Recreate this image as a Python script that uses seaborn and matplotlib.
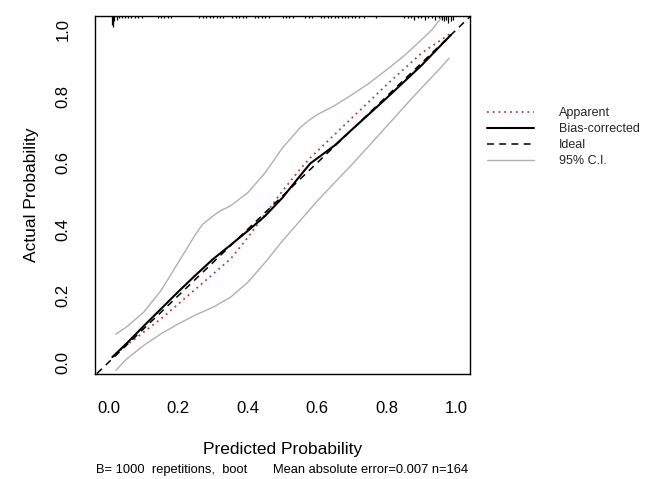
import numpy as np
import pandas as pd
import matplotlib
matplotlib.use("Agg")
import matplotlib.pyplot as plt
import seaborn as sns

# ---------------- data ----------------
apparent_x = [0.02, 0.05, 0.10, 0.15, 0.20, 0.25, 0.30, 0.35, 0.40, 0.45, 0.50, 0.55, 0.58, 0.65, 0.70, 0.80, 0.90, 0.985]
apparent_y = [0.025, 0.05, 0.09, 0.13, 0.175, 0.22, 0.265, 0.31, 0.375, 0.445, 0.515, 0.58, 0.615, 0.685, 0.735, 0.835, 0.93, 0.99]

bias_x = [0.01, 0.05, 0.10, 0.15, 0.20, 0.25, 0.30, 0.35, 0.40, 0.45, 0.50, 0.55, 0.58, 0.65, 0.70, 0.80, 0.90, 0.985]
bias_y = [0.015, 0.055, 0.108, 0.16, 0.212, 0.262, 0.31, 0.352, 0.395, 0.44, 0.495, 0.56, 0.598, 0.652, 0.70, 0.795, 0.893, 0.985]

ci_upper_x = [0.02, 0.05, 0.10, 0.15, 0.20, 0.25, 0.27, 0.30, 0.32, 0.35, 0.40, 0.45, 0.50, 0.55, 0.575,
              0.60, 0.65, 0.70, 0.75, 0.80, 0.85, 0.90, 0.93, 0.96]
ci_upper_y = [0.084, 0.105, 0.15, 0.215, 0.30, 0.385, 0.415, 0.44, 0.455, 0.47, 0.51, 0.57, 0.645, 0.705, 0.727,
              0.745, 0.772, 0.805, 0.84, 0.88, 0.922, 0.97, 1.0, 1.04]

ci_lower_x = [0.02, 0.05, 0.10, 0.15, 0.20, 0.25, 0.30, 0.35, 0.40, 0.45, 0.50, 0.55, 0.60, 0.65,
              0.70, 0.75, 0.80, 0.85, 0.90, 0.95, 0.98]
ci_lower_y = [-0.025, 0.008, 0.05, 0.085, 0.115, 0.142, 0.165, 0.195, 0.24, 0.30, 0.365, 0.425, 0.485, 0.54,
              0.595, 0.652, 0.71, 0.768, 0.825, 0.88, 0.915]

ideal_x = [-0.06, 1.06]
ideal_y = [-0.06, 1.06]

# spike histogram of predicted probabilities (top rug)
rug_x = [0.008, 0.012, 0.016, 0.022, 0.03, 0.038, 0.046, 0.055, 0.065, 0.075, 0.085, 0.095,
         0.14, 0.15, 0.16, 0.17, 0.18,
         0.26, 0.27, 0.28, 0.29, 0.30, 0.31, 0.32, 0.33,
         0.355, 0.365, 0.375, 0.385, 0.395,
         0.42, 0.43, 0.44, 0.45, 0.46,
         0.50, 0.51, 0.52, 0.53,
         0.565, 0.575, 0.585,
         0.61, 0.62, 0.63,
         0.64, 0.65, 0.66, 0.67, 0.68, 0.69, 0.70, 0.71, 0.72, 0.735,
         0.77,
         0.85, 0.86, 0.87, 0.88, 0.89, 0.90, 0.91, 0.92, 0.93, 0.94, 0.95, 0.96,
         0.965, 0.972, 0.978, 0.985, 0.99]
rug_n = [5, 6, 3, 2, 1, 1, 1, 1, 1, 1, 1, 1,
         1, 1, 1, 1, 1,
         1, 1, 1, 1, 1, 1, 1, 1,
         1, 1, 1, 1, 1,
         1, 1, 1, 1, 1,
         1, 1, 1, 1,
         1, 1, 1,
         1, 1, 1,
         1, 1, 1, 1, 1, 1, 1, 1, 1, 1,
         1,
         1, 1, 1, 2, 1, 1, 2, 1, 1, 2, 1, 2,
         3, 2, 4, 3, 2]

x_ticks = [0.0, 0.2, 0.4, 0.6, 0.8, 1.0]
y_ticks = [0.0, 0.2, 0.4, 0.6, 0.8, 1.0]
tick_labels = ["0.0", "0.2", "0.4", "0.6", "0.8", "1.0"]

# ---------------- style ----------------
sns.set_theme(style="white")
plt.rcParams['font.family'] = ['Liberation Sans', 'DejaVu Sans']
plt.rcParams['axes.edgecolor'] = 'black'
plt.rcParams['axes.linewidth'] = 1.0

fig = plt.figure(figsize=(6.46, 4.79), dpi=100)
ax = fig.add_axes([95/646, 1 - 374/479, 375/646, 358/479])

XMIN, XMAX = -0.04, 1.04
YMIN, YMAX = -0.036, 1.042

red = '#b5394a'
grey = '#b0b0b0'

sns.lineplot(x=apparent_x, y=apparent_y, ax=ax, color=red, linewidth=1.3,
             linestyle=(0, (1, 2.2)), sort=False, estimator=None, label='Apparent')
sns.lineplot(x=bias_x, y=bias_y, ax=ax, color='black', linewidth=1.5,
             sort=False, estimator=None, label='Bias-corrected')
sns.lineplot(x=ideal_x, y=ideal_y, ax=ax, color='black', linewidth=1.1,
             linestyle=(0, (4.5, 3.5)), sort=False, estimator=None, label='Ideal')
sns.lineplot(x=ci_upper_x, y=ci_upper_y, ax=ax, color=grey, linewidth=1.0,
             sort=False, estimator=None, label='95% C.I.')
sns.lineplot(x=ci_lower_x, y=ci_lower_y, ax=ax, color=grey, linewidth=1.0,
             sort=False, estimator=None, label='_nolegend_')

# top spike histogram
spike_unit = 0.0055
ax.vlines(rug_x, [YMAX - n * spike_unit for n in rug_n], YMAX, color='black', linewidth=0.9)

ax.set_xlim(XMIN, XMAX)
ax.set_ylim(YMIN, YMAX)
ax.set_xticks(x_ticks)
ax.set_xticklabels(tick_labels)
ax.set_yticks(y_ticks)
ax.set_yticklabels(tick_labels, rotation=90, va='center')
ax.tick_params(axis='both', which='both', direction='out', length=7.5, width=1.0,
               color='black', labelsize=12, labelcolor='black')
ax.tick_params(axis='x', pad=12)
ax.tick_params(axis='y', pad=10)
for s in ax.spines.values():
    s.set_visible(True)
    s.set_color('black')
ax.grid(False)

ax.set_xlabel('Predicted Probability', fontsize=12.5, labelpad=19, color='black')
ax.set_ylabel('Actual Probability', fontsize=12.5, labelpad=12, color='black')

leg = ax.legend(loc='upper left', bbox_to_anchor=(1.045, 0.745), frameon=False,
                fontsize=9, handlelength=3.8, handletextpad=2.0, labelspacing=0.32,
                borderpad=0, borderaxespad=0)

fig.text(96/646, 1 - 470/479, 'B= 1000  repetitions,  boot', fontsize=9.3,
         ha='left', va='center', color='black')
fig.text(468/646, 1 - 470/479, 'Mean absolute error=0.007 n=164', fontsize=9.3,
         ha='right', va='center', color='black')

fig.savefig('out.png', dpi=100, facecolor='white')
